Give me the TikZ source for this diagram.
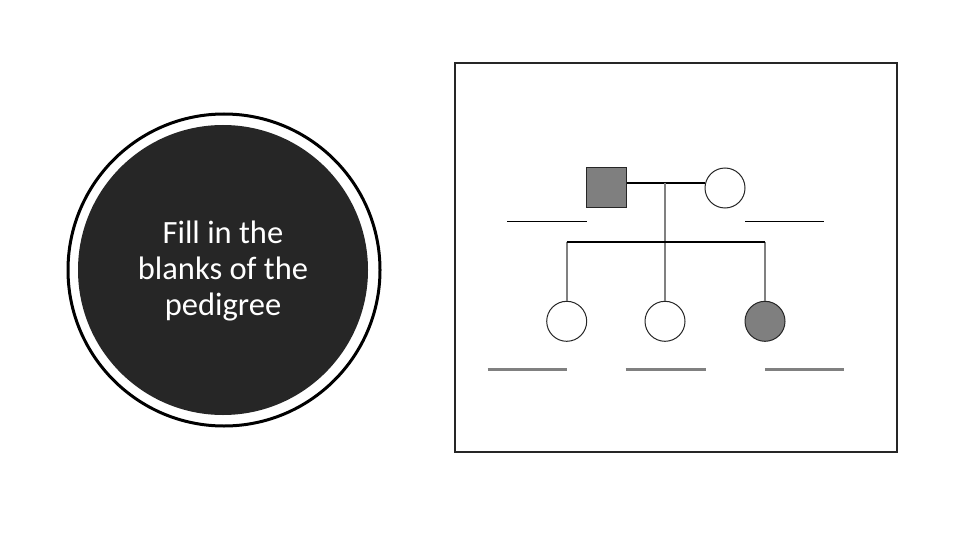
\documentclass[tikz,border=0pt]{standalone}
\usepackage{fontspec}
\setmainfont{Carlito}
\usepackage{xcolor}
\definecolor{darkfill}{HTML}{262626}
\definecolor{affected}{HTML}{7F7F7F}
\definecolor{stemgray}{HTML}{808080}
\tikzset{
	male/.style={draw=darkfill, line width=1.5pt, fill=affected, minimum size=40pt, inner sep=0pt},
	female/.style={circle, draw=darkfill, line width=1pt, fill=white, minimum size=40pt, inner sep=0pt},
	sick/.style={fill=affected},
	mateline/.style={line width=1.6pt, black},
	stemline/.style={line width=1.6pt, stemgray},
	blank/.style={line width=0.9pt, black},
	bigblank/.style={line width=3pt, stemgray}
}

\begin{document}
\begin{tikzpicture}[x=1pt, y=-1pt]
	\useasboundingbox (0,0) rectangle (960,540);
	% title disc
	\draw[line width=3pt, black, fill=white] (224,270) circle (156);
	\fill[darkfill] (223,270) circle (145);
	\node[text=white, font=\fontsize{32.5}{36}\selectfont, align=center] (title) at (223,271) {Fill in the\\blanks of the\\pedigree};
	% frame
	\draw[line width=2.5pt, darkfill] (455,63) rectangle (897,452);
	% parents
	\node[male] (father) at (606.5,187.5) {};
	\node[female] (mother) at (725,188) {};
	\coordinate (mate) at (665,182.7);
	\draw[mateline] (father.east |- mate) -- (mate) -- (mother.west |- mate);
	% children
	\node[female] (childA) at (566.7,321.3) {};
	\node[female] (childB) at (665,321.3) {};
	\node[female, sick] (childC) at (765,321.3) {};
	\coordinate (sibA) at (566.7,241.7);
	\coordinate (sibC) at (765,241.7);
	\draw[stemline] (mate) -- (childB.north);
	\draw[stemline] (sibA) -- (childA.north);
	\draw[stemline] (sibC) -- (childC.north);
	\draw[mateline] (sibA) -- (sibC);
	% blanks
	\draw[blank] (507,221.7) -- (586.7,221.7);
	\draw[blank] (745,221.7) -- (824,221.7);
	\draw[bigblank] (487.7,369.3) -- (567.3,369.3);
	\draw[bigblank] (625.7,369.3) -- (706,369.3);
	\draw[bigblank] (765,369.3) -- (844.3,369.3);
\end{tikzpicture}
\end{document}
